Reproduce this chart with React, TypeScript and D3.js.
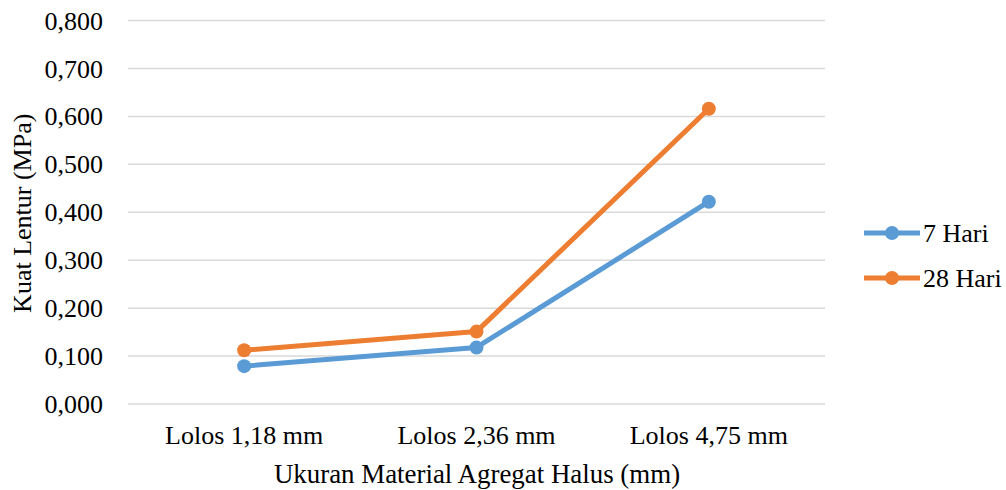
import React from 'react'
import * as d3 from 'd3'

const categories = ['Lolos 1,18 mm', 'Lolos 2,36 mm', 'Lolos 4,75 mm']
const seriesNames = ['7 Hari', '28 Hari']
const hari7 = [0.079, 0.118, 0.422]
const hari28 = [0.112, 0.151, 0.616]
const yTicks = [0, 0.1, 0.2, 0.3, 0.4, 0.5, 0.6, 0.7, 0.8]

const colors = ['#5B9BD5', '#ED7D31']
const family = "'Liberation Serif', 'Times New Roman', Times, serif"
const textStyle = { fontFamily: family, fontSize: '26px' }

const App = () => {
  const width = 1006
  const height = 490
  const left = 128
  const right = 825
  const top = 20.5
  const bottom = 404

  const x = d3.scaleBand().domain(categories).range([left, right])
  const y = d3.scaleLinear().domain([0, 0.8]).range([bottom, top])
  const cx = (c: string) => (x(c) as number) + x.bandwidth() / 2

  const line = d3
    .line<number>()
    .x((_, i) => cx(categories[i]))
    .y(d => y(d))

  const series = [hari7, hari28]
  const fmt = (v: number) => v.toFixed(3).replace('.', ',')

  return (
    <svg
      width={width}
      height={height}
      style={{ position: 'absolute', left: 0, top: 0, background: '#fff' }}
    >
      {/* grid */}
      {yTicks.map(t => (
        <line key={t} x1={left} x2={right} y1={y(t)} y2={y(t)} stroke="#D9D9D9" strokeWidth={1.5} />
      ))}
      {yTicks.map(t => (
        <text key={'l' + t} x={103} y={y(t)} dy="0.35em" textAnchor="end" style={textStyle} fill="#000">
          {fmt(t)}
        </text>
      ))}
      <text
        transform={`translate(31, ${(top + bottom) / 2 + 1}) rotate(-90)`}
        textAnchor="middle"
        style={textStyle}
        fill="#000"
      >
        Kuat Lentur (MPa)
      </text>

      {categories.map(c => (
        <text key={c} x={cx(c)} y={444} textAnchor="middle" style={textStyle} fill="#000">
          {c}
        </text>
      ))}
      <text
        x={477}
        y={483}
        textAnchor="middle"
        style={{ fontFamily: family, fontSize: '26.9px' }}
        fill="#000"
      >
        Ukuran Material Agregat Halus (mm)
      </text>

      {series.map((s, si) => (
        <g key={si}>
          <path d={line(s) as string} fill="none" stroke={colors[si]} strokeWidth={5} strokeLinejoin="round" />
          {s.map((v, i) => (
            <circle key={i} cx={cx(categories[i])} cy={y(v)} r={7} fill={colors[si]} />
          ))}
        </g>
      ))}

      {/* legend */}
      {seriesNames.map((n, i) => {
        const ly = 233 + i * 45
        return (
          <g key={n}>
            <line x1={864} x2={920} y1={ly} y2={ly} stroke={colors[i]} strokeWidth={5} />
            <circle cx={892} cy={ly} r={7} fill={colors[i]} />
            <text x={923} y={ly} dy="0.35em" style={textStyle} fill="#000">
              {n}
            </text>
          </g>
        )
      })}
    </svg>
  )
}

export default App
